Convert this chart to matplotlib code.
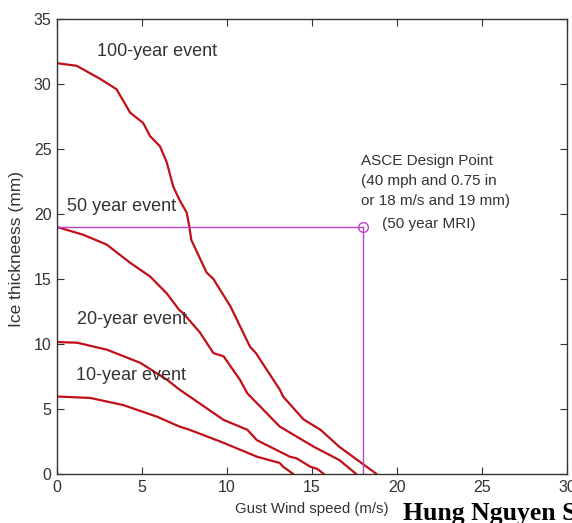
import matplotlib
matplotlib.use("Agg")
import matplotlib.pyplot as plt

# ---- data ----
x100 = [0.0, 1.16, 2.53, 3.5, 4.3, 5.07, 5.47, 6.06, 6.45, 6.84, 7.2, 7.63, 7.78, 7.9, 8.8, 9.2, 10.2, 11.35, 11.7, 13.1, 13.3, 14.5, 15.5, 16.6, 17.8, 18.8]
y100 = [31.6, 31.4, 30.4, 29.6, 27.8, 27.0, 26.0, 25.2, 24.0, 22.1, 21.1, 20.1, 19.07, 18.0, 15.5, 15.0, 12.9, 9.8, 9.3, 6.5, 5.96, 4.2, 3.4, 2.1, 0.95, 0.0]

x50 = [0.0, 1.55, 2.92, 4.3, 5.47, 6.45, 7.2, 7.4, 8.4, 9.2, 9.8, 10.76, 11.2, 13.1, 15.1, 16.6, 17.6]
y50 = [19.0, 18.4, 17.65, 16.25, 15.2, 13.9, 12.6, 12.4, 10.9, 9.3, 9.05, 7.25, 6.2, 3.65, 2.1, 1.08, 0.0]

x20 = [0.0, 1.18, 2.94, 4.9, 6.47, 7.2, 7.8, 9.8, 11.2, 11.76, 13.7, 14.1, 14.9, 15.3, 15.7]
y20 = [10.15, 10.1, 9.56, 8.55, 7.25, 6.5, 5.96, 4.16, 3.4, 2.6, 1.33, 1.2, 0.56, 0.4, 0.0]

x10 = [0.0, 1.96, 3.9, 5.9, 7.2, 7.8, 9.8, 11.76, 13.1, 13.3, 13.9]
y10 = [5.96, 5.85, 5.3, 4.4, 3.65, 3.4, 2.4, 1.33, 0.85, 0.56, 0.0]

design_x = 18
design_y = 19

event_labels = ["100-year event", "50 year event", "20-year event", "10-year event"]
label_pos = [(2.35, 32.5), (0.6, 20.6), (1.15, 11.9), (1.1, 7.6)]

xticks = [0, 5, 10, 15, 20, 25, 30]
yticks = [0, 5, 10, 15, 20, 25, 30, 35]

# ---- figure ----
plt.rcParams['font.family'] = ['Liberation Sans', 'DejaVu Sans']
fig = plt.figure(figsize=(5.72, 5.23), dpi=100)
ax = fig.add_axes([57/572, 1 - 474/523, 510/572, 455/523])

red = '#c00f18'
for xs, ys in [(x100, y100), (x50, y50), (x20, y20), (x10, y10)]:
    ax.plot(xs, ys, color=red, lw=1.6, solid_capstyle='round', solid_joinstyle='round')

mag = '#c040c8'
ax.plot([0, design_x], [design_y, design_y], color=mag, lw=1.0)
ax.plot([design_x, design_x], [0, design_y], color=mag, lw=1.0)
ax.plot([design_x], [design_y], marker='o', mfc='none', mec=mag, ms=7, mew=1.0)

txt = '#333333'
for lab, (lx, ly) in zip(event_labels, label_pos):
    ax.text(lx, ly, lab, fontsize=13, color=txt, ha='left', va='center')

ax.text(17.9, 24.1, "ASCE Design Point", fontsize=11, color=txt, ha='left', va='center')
ax.text(17.9, 22.55, "(40 mph and 0.75 in", fontsize=11, color=txt, ha='left', va='center')
ax.text(17.9, 21.0, "or 18 m/s and 19 mm)", fontsize=11, color=txt, ha='left', va='center')
ax.text(19.1, 19.2, "(50 year MRI)", fontsize=11, color=txt, ha='left', va='center')

ax.set_xlim(0, 30)
ax.set_ylim(0, 35)
ax.set_xticks(xticks)
ax.set_yticks(yticks)
ax.tick_params(direction='in', top=True, right=True, length=5, labelsize=11.5,
               colors='#333333', labelcolor='#333333', pad=4)
for s in ax.spines.values():
    s.set_color('#333333')
    s.set_linewidth(1.0)

ax.set_xlabel("Gust Wind speed (m/s)", fontsize=10.8, color=txt)
ax.xaxis.set_label_coords(0.5, -0.062)
ax.set_ylabel("Ice thickneess (mm)", fontsize=12.5, color=txt)
ax.yaxis.set_label_coords(-0.064, 0.495)

fig.text(403/572, 3/523, "Hung Nguyen S", fontsize=18.5, fontweight='bold',
         family='Liberation Serif', color='black', ha='left', va='baseline')

fig.savefig("out.png", dpi=100)
